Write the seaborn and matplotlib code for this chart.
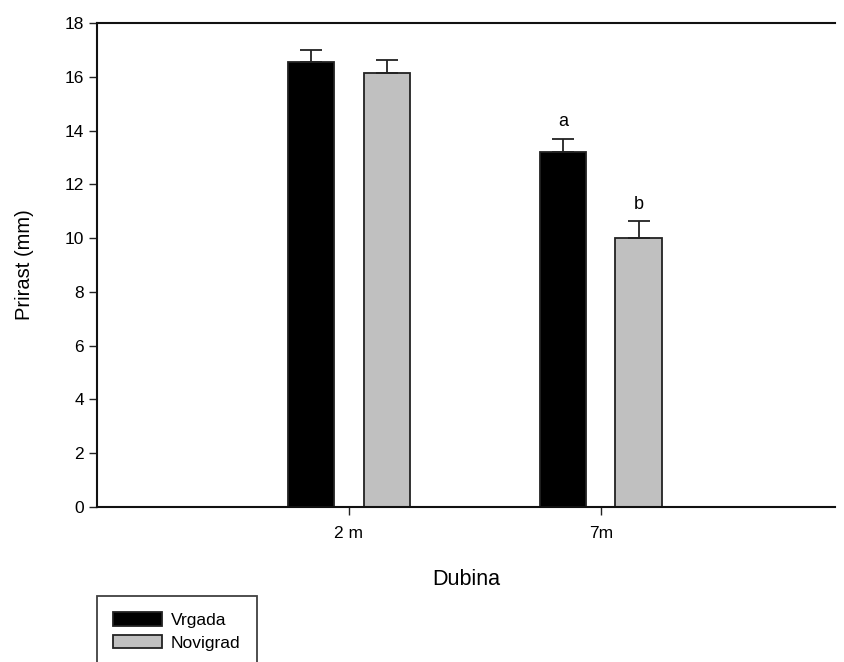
import pandas as pd
import numpy as np
import matplotlib
matplotlib.use('Agg')
import matplotlib.pyplot as plt
import seaborn as sns

# Chart data
depths = ['2 m', '7m']
sites = ['Vrgada', 'Novigrad']
vrgada_mean = [16.54, 13.22]
novigrad_mean = [16.14, 10.02]
vrgada_err = [0.47, 0.48]
novigrad_err = [0.50, 0.60]
sig_labels = {'Vrgada': ['', 'a'], 'Novigrad': ['', 'b']}

df = pd.DataFrame({
    'Dubina': depths * 2,
    'Lokacija': [sites[0]] * 2 + [sites[1]] * 2,
    'Prirast': vrgada_mean + novigrad_mean,
})
errors = {'Vrgada': vrgada_err, 'Novigrad': novigrad_err}

sns.set_style('ticks')
plt.rcParams['font.family'] = ['Liberation Sans', 'DejaVu Sans']
plt.rcParams['text.color'] = 'black'
plt.rcParams['axes.labelcolor'] = 'black'
plt.rcParams['xtick.color'] = 'black'
plt.rcParams['ytick.color'] = 'black'

fig = plt.figure(figsize=(8.45, 6.62), dpi=100)
ax = fig.add_axes([97 / 845, 1 - 507 / 662, (835 - 97) / 845, (507 - 23) / 662])

sns.barplot(
    data=df, x='Dubina', y='Prirast', hue='Lokacija',
    order=depths, hue_order=sites,
    palette={'Vrgada': '#000000', 'Novigrad': '#c0c0c0'},
    width=0.6, gap=0.39, errorbar=None,
    edgecolor='#222222', linewidth=1.3, ax=ax,
)

# one-sided error bars and significance letters on top of each bar
for site, container in zip(sites, ax.containers):
    for i, bar in enumerate(container):
        xc = bar.get_x() + bar.get_width() / 2
        top = bar.get_height()
        err = errors[site][i]
        ax.errorbar(xc, top, yerr=[[0], [err]], fmt='none', ecolor='#222222',
                    elinewidth=1.3, capsize=8, capthick=1.3, zorder=3)
        lab = sig_labels[site][i]
        if lab:
            ax.annotate(lab, (xc, top + err), xytext=(0, 12), textcoords='offset points',
                        ha='center', va='center', fontsize=13)

ax.set_xlim(-1.0, 1.93)
ax.set_ylim(0, 18)
ax.set_yticks(np.arange(0, 19, 2))
ax.set_xlabel('Dubina', fontsize=15.5, labelpad=20)
ax.set_ylabel('Prirast (mm)', fontsize=14.5, labelpad=22)
ax.tick_params(axis='both', labelsize=12.5, length=6, width=1, direction='out', color='#222222')
ax.tick_params(axis='x', pad=8)

for side in ['left', 'bottom', 'top']:
    ax.spines[side].set_visible(True)
    ax.spines[side].set_linewidth(1.5)
    ax.spines[side].set_color('#111111')
ax.spines['right'].set_visible(False)

ax.get_legend().remove()
handles = [plt.Rectangle((0, 0), 1, 1, facecolor='#000000', edgecolor='#222222', linewidth=1.3),
           plt.Rectangle((0, 0), 1, 1, facecolor='#c0c0c0', edgecolor='#222222', linewidth=1.3)]
leg = fig.legend(handles, sites, loc='upper left', bbox_to_anchor=(97 / 845, 1 - 596 / 662),
                 frameon=True, fancybox=False, fontsize=12.5, handlelength=2.8,
                 handleheight=0.8, handletextpad=0.5, labelspacing=0.4,
                 borderpad=0.95, borderaxespad=0)
leg.get_frame().set_edgecolor('#111111')
leg.get_frame().set_linewidth(1.3)

fig.savefig('out.png', dpi=100)
